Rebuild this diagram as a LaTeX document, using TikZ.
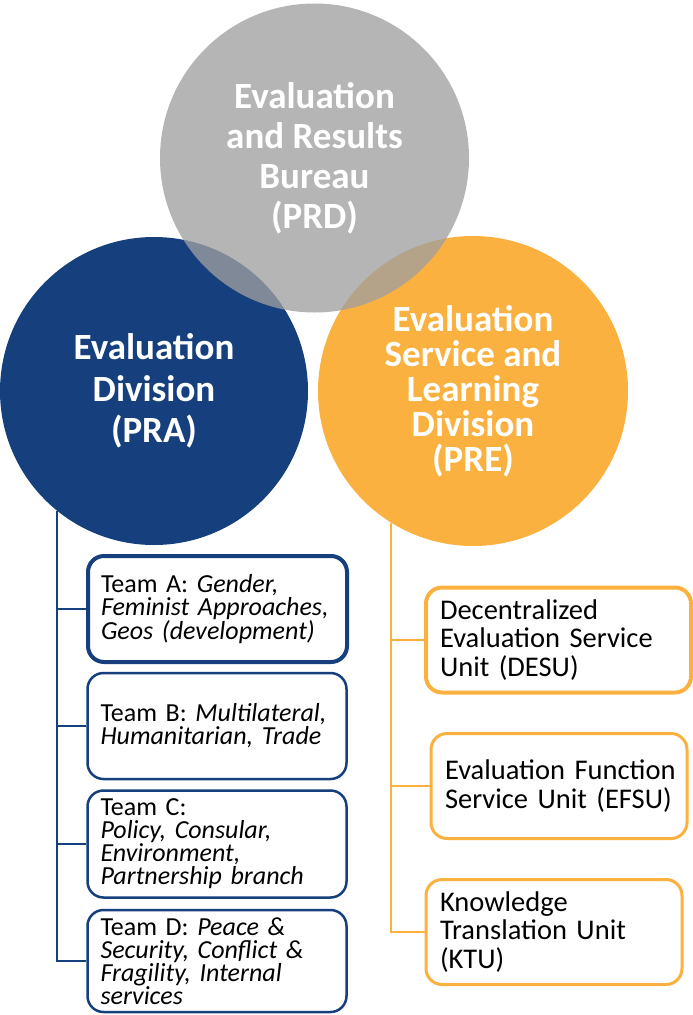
\documentclass[tikz,border=0pt]{standalone}
\usepackage{fontspec}
\setmainfont{Carlito}
\usepackage{tikz}
\definecolor{praBlue}{RGB}{21,64,125}
\definecolor{preOrange}{RGB}{251,177,64}
\definecolor{prdGray}{RGB}{159,159,159}

\begin{document}
\begin{tikzpicture}
	[x=1pt, y=-1pt,
	division/.style={circle, inner sep=0pt, minimum size=309pt, text=white, align=center,
		font=\bfseries\fontsize{37}{40}\selectfont},
	team/.style={draw=praBlue, line width=2.5pt, rounded corners=16pt, fill=white,
		inner xsep=13pt, inner ysep=0pt, text width=233pt, minimum height=106pt, align=left,
		font=\fontsize{26}{23}\selectfont},
	unit/.style={draw=preOrange, line width=3pt, rounded corners=16pt, fill=white,
		inner xsep=14pt, inner ysep=0pt, minimum height=105pt, align=left,
		font=\fontsize{28.5}{28.5}\selectfont},
	branch/.style={line width=2.5pt}]
	\useasboundingbox (0,0) rectangle (693,1015);
	\node[division, fill=praBlue, minimum size=308pt, font=\bfseries\fontsize{37}{41.5}\selectfont] (pra) at (154,391) {Evaluation\\Division\\(PRA)};
	\node[division, fill=preOrange, minimum size=310pt, font=\bfseries\fontsize{37}{35}\selectfont] (pre) at (473,391) {Evaluation\\Service and\\Learning\\Division\\(PRE)};
	\node[division, fill=prdGray, fill opacity=0.77, text opacity=1] (prd) at (314.5,158) {Evaluation\\and Results\\Bureau\\(PRD)};
	\node[team, line width=4pt] (teamA) at (217.5,609) {Team A: \itshape Gender,\\\mbox{Feminist Approaches,}\\\mbox{Geos (development)}};
	\node[team] (teamB) at (217,726) {Team B: \itshape Multilateral,\\\mbox{Humanitarian, Trade}};
	\node[team, minimum height=107pt] (teamC) at (217,844) {Team C:\\\itshape Policy, Consular,\\Environment,\\\mbox{Partnership branch}};
	\node[team, minimum height=102pt] (teamD) at (217,961) {Team D: \itshape Peace \&\\Security, Conflict \&\\Fragility, Internal\\services};
	\node[unit, line width=4pt, text width=237pt] (desu) at (558.5,640) {Decentralized\\\mbox{Evaluation Service}\\Unit (DESU)};
	\node[unit, text width=228pt] (efsu) at (559,786) {\mbox{Evaluation Function}\\\mbox{Service Unit (EFSU)}};
	\node[unit, text width=228pt] (ktu) at (554,932) {Knowledge\\\mbox{Translation Unit}\\(KTU)};
	\draw[branch, praBlue] (pra.231) |- (teamD.west);
	\foreach \t in {teamA,teamB,teamC}
		\draw[branch, praBlue] (pra.231 |- \t.west) -- (\t.west);
	\draw[branch, preOrange] (pre.238) |- (ktu.west);
	\foreach \t in {desu,efsu}
		\draw[branch, preOrange] (pre.238 |- \t.west) -- (\t.west);
\end{tikzpicture}
\end{document}
